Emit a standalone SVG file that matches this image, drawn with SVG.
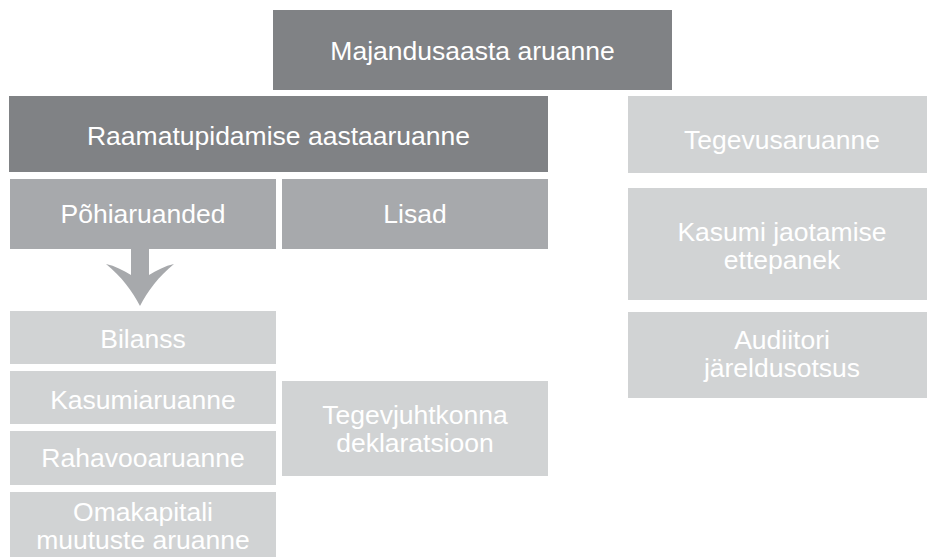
<svg xmlns="http://www.w3.org/2000/svg" width="927" height="557" viewBox="0 0 927 557">
  <style>
    text { font-family: "Liberation Sans", Arial, sans-serif; font-size: 26.5px; fill: #ffffff; text-anchor: middle; }
    .dark { fill: #808285; }
    .mid { fill: #a7a9ac; }
    .light { fill: #d1d3d4; }
    .arrow { fill: #a7a9ac; }
  </style>
  <rect width="927" height="557" fill="#ffffff"/>

  <!-- top level report -->
  <g id="majandusaasta">
    <rect class="dark" x="273" y="10" width="399" height="80"/>
    <text x="472.5" y="59.5">Majandusaasta aruanne</text>
  </g>

  <!-- annual accounts and its parts -->
  <g id="raamatupidamise">
    <rect class="dark" x="9" y="96" width="539" height="76"/>
    <text x="278.5" y="145">Raamatupidamise aastaaruanne</text>
  </g>
  <g id="pohiaruanded">
    <rect class="mid" x="10" y="179" width="266" height="70"/>
    <text x="143" y="222.5">Põhiaruanded</text>
  </g>
  <g id="lisad">
    <rect class="mid" x="282" y="179" width="266" height="70"/>
    <text x="415" y="222.5">Lisad</text>
  </g>

  <!-- primary statements -->
  <g id="bilanss">
    <rect class="light" x="10" y="311" width="266" height="53"/>
    <text x="143" y="348">Bilanss</text>
  </g>
  <g id="kasumiaruanne">
    <rect class="light" x="10" y="371" width="266" height="53"/>
    <text x="143" y="409">Kasumiaruanne</text>
  </g>
  <g id="rahavooaruanne">
    <rect class="light" x="10" y="431" width="266" height="54"/>
    <text x="143" y="467">Rahavooaruanne</text>
  </g>
  <g id="omakapitali">
    <rect class="light" x="10" y="492" width="266" height="70"/>
    <text x="143" y="521">Omakapitali</text>
    <text x="143" y="549">muutuste aruanne</text>
  </g>

  <g id="tegevjuhtkonna">
    <rect class="light" x="282" y="381" width="266" height="95"/>
    <text x="415" y="424">Tegevjuhtkonna</text>
    <text x="415" y="452">deklaratsioon</text>
  </g>

  <!-- other parts of the report -->
  <g id="tegevusaruanne">
    <rect class="light" x="628" y="96" width="308" height="77"/>
    <text x="782" y="149">Tegevusaruanne</text>
  </g>
  <g id="kasumi-jaotamine">
    <rect class="light" x="628" y="188" width="308" height="112"/>
    <text x="782" y="241">Kasumi jaotamise</text>
    <text x="782" y="269">ettepanek</text>
  </g>
  <g id="audiitori">
    <rect class="light" x="628" y="312" width="308" height="86"/>
    <text x="782" y="349">Audiitori</text>
    <text x="782" y="377">järeldusotsus</text>
  </g>

  <!-- connectors -->
  <g id="connectors">
    <path class="arrow" d="M131,249 H149 V275 C157,270 165,266 174,264 C159,276 147,292 140,306 C133,292 121,276 106,264 C115,266 123,270 131,275 Z"/>
  </g>
</svg>
